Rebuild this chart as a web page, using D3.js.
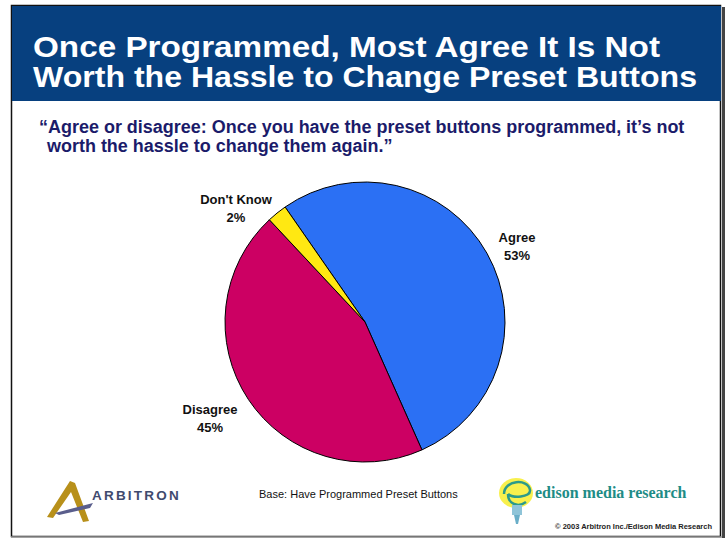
<!DOCTYPE html>
<html><head><meta charset="utf-8">
<script src="https://cdn.jsdelivr.net/npm/d3@7"></script>
<style>body{margin:0;background:#fff}svg{display:block}</style>
</head><body>
<svg id="c" width="726" height="539"></svg>
<script>
const categories = ["Agree", "Disagree", "Don't Know"];
const values = [53.0, 44.7, 2.3];
const labels = ["53%", "45%", "2%"];
const colors = ["#2B70F4", "#CC0063", "#FFE812"];
const titleLines = ["Once Programmed, Most Agree It Is Not", "Worth the Hassle to Change Preset Buttons"];
const questionLines = ["\u201CAgree or disagree: Once you have the preset buttons programmed, it\u2019s not", " worth the hassle to change them again.\u201D"];
const baseText = "Base: Have Programmed Preset Buttons";
const copyright = "\u00A9 2003 Arbitron Inc./Edison Media Research";

const svg = d3.select("#c");
const F = "Liberation Sans, Arial, Helvetica, sans-serif";

// frame
svg.append("rect").attr("x",722).attr("y",7).attr("width",3).attr("height",531).attr("fill","#444");
svg.append("rect").attr("x",11.5).attr("y",5.5).attr("width",709).attr("height",531)
  .attr("fill","#fff").attr("stroke","#111").attr("stroke-width",1.5);
svg.append("line").attr("x1",11).attr("x2",722).attr("y1",537).attr("y2",537).attr("stroke","#999").attr("stroke-width",1.5);
// header
svg.append("rect").attr("x",12).attr("y",6).attr("width",709).attr("height",95).attr("fill","#07407F");
const titleWidths = [627, 664];
svg.selectAll("text.title").data(titleLines).join("text").attr("class","title")
  .attr("x",33).attr("y",(d,i)=>57+i*30).attr("fill","#fff")
  .attr("font-family",F).attr("font-weight","bold").attr("font-size",29.5)
  .attr("textLength",(d,i)=>titleWidths[i]).attr("lengthAdjust","spacingAndGlyphs")
  .text(d=>d);

const qq = svg.selectAll("text.q").data(questionLines).join("text").attr("class","q")
  .attr("x",(d,i)=>i?42:39).attr("y",(d,i)=>133+i*19).attr("fill","#1B1B6A")
  .attr("font-family",F).attr("font-weight","bold").attr("font-size",16)
  .attr("xml:space","preserve").style("white-space","pre")
  .text(d=>d);
const wq = qq.nodes()[0].getComputedTextLength();
qq.attr("font-size", 16*646/wq);

// pie
const cx = 365, cy = 322, r = 140;
const start = -34.8*Math.PI/180;
const pie = d3.pie().sort(null).value(d=>d).startAngle(start).endAngle(start+2*Math.PI);
const arcs = pie(values);
const arc = d3.arc().innerRadius(0).outerRadius(r);
const g = svg.append("g").attr("transform",`translate(${cx},${cy})`);
g.selectAll("path").data(arcs).join("path")
  .attr("d",arc).attr("fill",(d,i)=>colors[i]).attr("stroke","#000").attr("stroke-width",1)
  .attr("stroke-linejoin","round");

// labels
const labelPos = [[152,-80],[-155,92],[-129,-118]];
arcs.forEach((a,i)=>{
  const t = g.append("text").attr("text-anchor","middle").attr("font-family",F)
    .attr("font-weight","bold").attr("font-size",13).attr("fill","#111");
  t.append("tspan").attr("x",labelPos[i][0]).attr("y",labelPos[i][1]).text(categories[i]);
  t.append("tspan").attr("x",labelPos[i][0]).attr("y",labelPos[i][1]+18).text(labels[i]);
});

// footer
svg.append("text").attr("x",259).attr("y",498).attr("font-family",F).attr("font-size",11).attr("fill","#111").text(baseText);
svg.append("text").attr("x",712).attr("y",529).attr("text-anchor","end").attr("font-family",F)
  .attr("font-weight","bold").attr("font-size",7.5).attr("fill","#222").text(copyright);

// Arbitron logo
const lg = svg.append("g");
lg.append("path").attr("d","M47,517 L70,481 L75,483 L89,521 L83,522 L71,492 L53,518 Z").attr("fill","#B8901A");
lg.append("path").attr("d","M55,513 L93,503 L90,508 L59,515 Z").attr("fill","#5A5E8C");
lg.append("text").attr("x",92).attr("y",500).attr("font-family",F).attr("font-weight","bold")
  .attr("font-size",13.5).attr("letter-spacing",2.2).attr("fill","#3F4A6E").text("ARBITRON");

// Edison logo
const eg = svg.append("g");
eg.append("ellipse").attr("cx",516).attr("cy",493).attr("rx",17).attr("ry",15).attr("fill","#F7EE3A").attr("opacity",0.9);
eg.append("path").attr("d","M504,494 C504,480 528,478 530,490 C531,498 512,498 508,494 M508,494 C508,504 518,508 526,502")
  .attr("fill","none").attr("stroke","#2C9A8A").attr("stroke-width",2.5);
eg.append("path").attr("d","M512,505 L522,505 L522,515 L512,515 Z").attr("fill","#8FC4D8");
eg.append("path").attr("d","M514,515 L520,515 L518,524 L516,524 Z").attr("fill","#6AAEC8");
eg.append("text").attr("x",535).attr("y",498).attr("font-family","Liberation Serif, Times New Roman, serif")
  .attr("font-weight","bold").attr("font-size",16).attr("fill","#1E8C86").text("edison media research");
</script>
</body></html>
